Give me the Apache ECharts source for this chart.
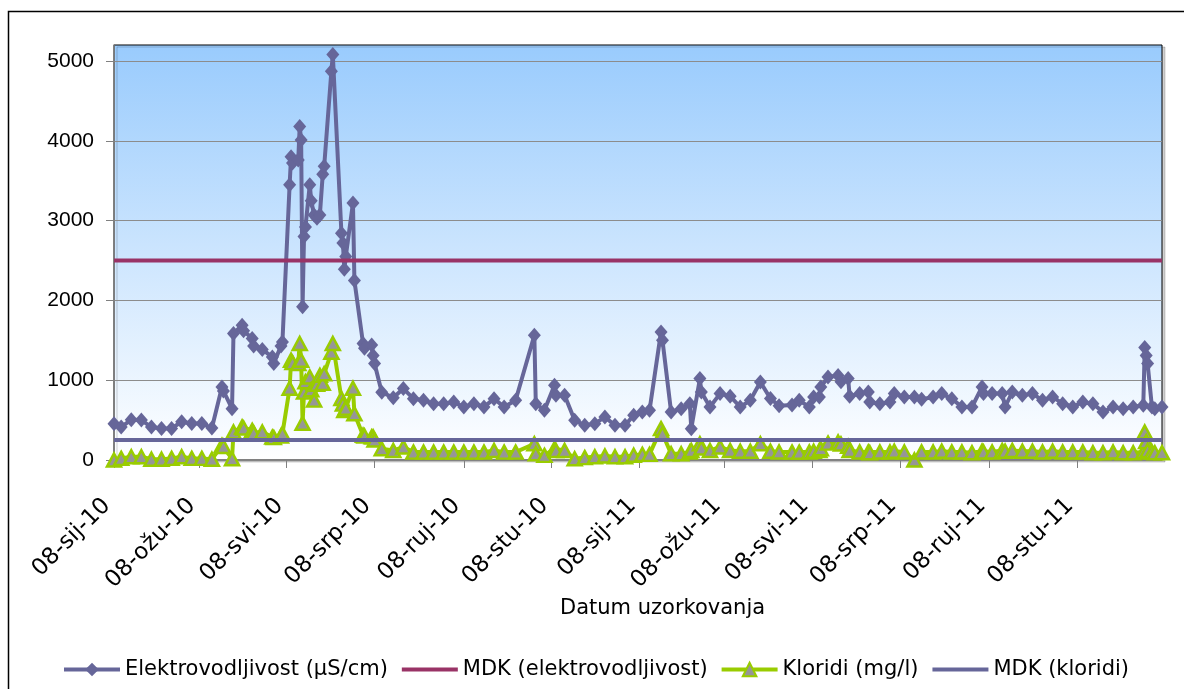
<!DOCTYPE html>
<html><head><meta charset="utf-8">
<script src="https://cdn.jsdelivr.net/npm/echarts@6/dist/echarts.min.js"></script>
<style>html,body{margin:0;padding:0;background:#fff}#c{width:1184px;height:689px}</style>
</head><body><div id="c"></div>
<script>
// ---- data ----
const sampleDates = [
'2010-01-08','2010-01-13','2010-01-20','2010-01-27','2010-02-03','2010-02-10','2010-02-17','2010-02-24',
'2010-03-03','2010-03-10','2010-03-17','2010-03-24','2010-03-25','2010-03-31','2010-04-01','2010-04-07',
'2010-04-08','2010-04-14','2010-04-15','2010-04-21','2010-04-28','2010-04-29','2010-05-04','2010-05-05',
'2010-05-10','2010-05-11','2010-05-12','2010-05-16','2010-05-17','2010-05-18','2010-05-19','2010-05-20',
'2010-05-21','2010-05-24','2010-05-25','2010-05-27','2010-05-29','2010-05-31','2010-06-02','2010-06-03',
'2010-06-08','2010-06-09','2010-06-15','2010-06-16','2010-06-17','2010-06-18','2010-06-23','2010-06-24',
'2010-06-30','2010-07-01','2010-07-06','2010-07-07','2010-07-08','2010-07-13','2010-07-21','2010-07-28',
'2010-08-04','2010-08-11','2010-08-18','2010-08-25','2010-09-01','2010-09-08','2010-09-15','2010-09-22',
'2010-09-29','2010-10-06','2010-10-14','2010-10-27','2010-10-28','2010-11-03','2010-11-10','2010-11-11',
'2010-11-17','2010-11-24','2010-12-01','2010-12-08','2010-12-15','2010-12-22','2010-12-29',
'2011-01-04','2011-01-10','2011-01-15','2011-01-23','2011-01-24','2011-01-30','2011-02-06','2011-02-12',
'2011-02-13','2011-02-19','2011-02-20','2011-02-26','2011-03-05','2011-03-12','2011-03-19','2011-03-26',
'2011-04-02','2011-04-09','2011-04-15','2011-04-24','2011-04-29','2011-05-06','2011-05-09','2011-05-13',
'2011-05-14','2011-05-19','2011-05-26','2011-05-28','2011-06-02','2011-06-03','2011-06-10','2011-06-16',
'2011-06-17','2011-06-24','2011-07-01','2011-07-04','2011-07-11','2011-07-18','2011-07-23','2011-07-31',
'2011-08-06','2011-08-13','2011-08-20','2011-08-27','2011-09-03','2011-09-04','2011-09-10','2011-09-17',
'2011-09-19','2011-09-24','2011-10-01','2011-10-08','2011-10-15','2011-10-22','2011-10-29','2011-11-05',
'2011-11-12','2011-11-19','2011-11-26','2011-12-03','2011-12-10','2011-12-17','2011-12-24','2011-12-25',
'2011-12-26','2011-12-27','2011-12-30','2012-01-01','2012-01-06'
];
const ecValues = [
455,413,505,500,413,395,395,480,
458,458,400,915,866,643,1585,1690,
1620,1522,1430,1385,1290,1210,1430,1480,
3450,3800,3720,3760,4180,4010,1920,2800,
2920,3450,3250,3070,3030,3070,3580,3680,
4870,5080,2840,2720,2390,2550,3220,2250,
1460,1400,1440,1310,1210,850,780,895,
769,748,706,706,727,664,706,664,
769,664,748,1564,706,622,936,811,
811,497,434,455,538,434,434,
560,601,622,1605,1501,601,643,706,
393,1020,852,664,832,800,664,748,
978,770,680,690,748,664,790,790,
915,1040,1060,980,1020,800,832,852,
727,706,727,832,790,790,760,790,
832,769,664,664,915,832,832,832,
664,852,811,832,748,790,706,664,
727,706,601,664,643,664,685,1410,
1310,1210,664,643,664
];
const clValues = [
0,20,40,40,10,10,20,40,
20,20,10,183,170,16,350,413,
400,371,340,350,287,280,300,330,
900,1250,1220,1210,1460,1250,460,850,
980,1040,880,750,950,1060,960,1080,
1350,1460,770,700,620,650,900,580,
310,300,290,290,250,140,120,162,
99,99,99,99,99,99,99,99,
120,99,99,204,79,58,142,120,
120,16,30,40,50,40,40,
60,70,70,393,330,79,79,100,
120,204,150,120,162,120,110,110,
204,110,100,99,99,100,110,120,
140,212,225,200,171,120,100,100,
90,100,100,110,100,0,100,100,
110,100,100,90,110,100,100,120,
110,120,110,110,100,110,100,100,
100,90,90,100,90,90,100,350,
230,120,100,90,90
];
const mdkEcValue = 2500;
const mdkClValue = 250;
const axisStartDate = '2010-01-08';
const axisEndDate = '2012-01-06';
const tickDates = ['2010-01-08','2010-03-08','2010-05-08','2010-07-08','2010-09-08','2010-11-08',
                   '2011-01-08','2011-03-08','2011-05-08','2011-07-08','2011-09-08','2011-11-08'];
const tickLabels = ['08-sij-10','08-ožu-10','08-svi-10','08-srp-10','08-ruj-10','08-stu-10',
                    '08-sij-11','08-ožu-11','08-svi-11','08-srp-11','08-ruj-11','08-stu-11'];
const yTickValues = [0,1000,2000,3000,4000,5000];
const seriesNames = ['Elektrovodljivost (µS/cm)','MDK (elektrovodljivost)','Kloridi (mg/l)','MDK (kloridi)'];

// ---- build ----
function ts(s){const p=s.split('-').map(Number);return new Date(p[0],p[1]-1,p[2]).getTime();}
const tStart=ts(axisStartDate), tEnd=ts(axisEndDate);
const tickTs=tickDates.map(ts);
const ecData=sampleDates.map((d,i)=>[ts(d),ecValues[i]]);
const clData=sampleDates.map((d,i)=>[ts(d),clValues[i]]);
function labelFor(v){let bi=0,bd=Infinity;tickTs.forEach((t,i)=>{const dd=Math.abs(t-v);if(dd<bd){bd=dd;bi=i;}});return tickLabels[bi];}

const chart=echarts.init(document.getElementById('c'),null,{renderer:'canvas'});
chart.setOption({
  animation:false,
  backgroundColor:'#ffffff',
  graphic:[{type:'rect',z:-1,shape:{x:8.5,y:11.5,width:1300,height:800},style:{fill:null,stroke:'#000',lineWidth:1.5}}],
  title:{text:'Datum uzorkovanja',left:560,top:598,padding:0,
    textStyle:{fontFamily:'DejaVu Sans',fontSize:21,fontWeight:'normal',color:'#000'}},
  legend:{left:57,top:654,itemWidth:56,itemHeight:17,itemGap:12,
    lineStyle:{width:4},
    textStyle:{fontFamily:'DejaVu Sans',fontSize:21,color:'#000'},
    data:[seriesNames[0],{name:seriesNames[1],itemStyle:{opacity:0}},seriesNames[2],{name:seriesNames[3],itemStyle:{opacity:0}}]},
  grid:{left:114,right:22,top:45,bottom:229,show:true,borderColor:'#000',borderWidth:1,
    shadowColor:'rgba(0,0,0,0.18)',shadowOffsetX:3,shadowOffsetY:2,shadowBlur:0,
    backgroundColor:{type:'linear',x:0,y:0,x2:0,y2:1,colorStops:[{offset:0,color:'#99CBFD'},{offset:1,color:'#FFFFFF'}]}},
  xAxis:{type:'value',min:tStart,max:tEnd,scale:true,
    axisLine:{show:true,onZero:false,lineStyle:{color:'#808080',width:1.5}},
    axisTick:{show:true,length:8,customValues:tickTs,lineStyle:{color:'#808080'}},
    axisLabel:{customValues:tickTs,rotate:45,margin:35,padding:[0,10,0,0],formatter:(v)=>labelFor(v),
      fontFamily:'DejaVu Sans',fontSize:23,color:'#000',hideOverlap:false},
    splitLine:{show:false}},
  yAxis:{type:'value',min:0,max:5200,interval:1000,
    axisLine:{show:true,lineStyle:{color:'#808080',width:1.5}},
    axisTick:{show:true,length:8,customValues:yTickValues,lineStyle:{color:'#808080'}},
    axisLabel:{customValues:yTickValues,margin:20,formatter:(v)=>String(v),fontFamily:'Liberation Sans',fontSize:21,color:'#000'},
    splitLine:{show:true,lineStyle:{color:'#8c8c8c',width:1}}},
  series:[
    {name:seriesNames[0],type:'line',data:ecData,clip:false,symbol:'diamond',symbolSize:[13,15],
      itemStyle:{color:'#666699'},lineStyle:{color:'#666699',width:4},z:2},
    {name:seriesNames[1],type:'line',data:[[tStart,mdkEcValue],[tEnd,mdkEcValue]],clip:false,symbol:'none',
      itemStyle:{color:'#993366'},lineStyle:{color:'#993366',width:4},z:3},
    {name:seriesNames[2],type:'line',data:clData,clip:false,symbol:'triangle',symbolSize:[14,13],
      itemStyle:{color:'#969696',borderColor:'#99CC00',borderWidth:2.5},lineStyle:{color:'#99CC00',width:4},z:4},
    {name:seriesNames[3],type:'line',data:[[tStart,mdkClValue],[tEnd,mdkClValue]],clip:false,symbol:'none',
      itemStyle:{color:'#666699'},lineStyle:{color:'#666699',width:4},z:5}
  ]
});
</script></body></html>
